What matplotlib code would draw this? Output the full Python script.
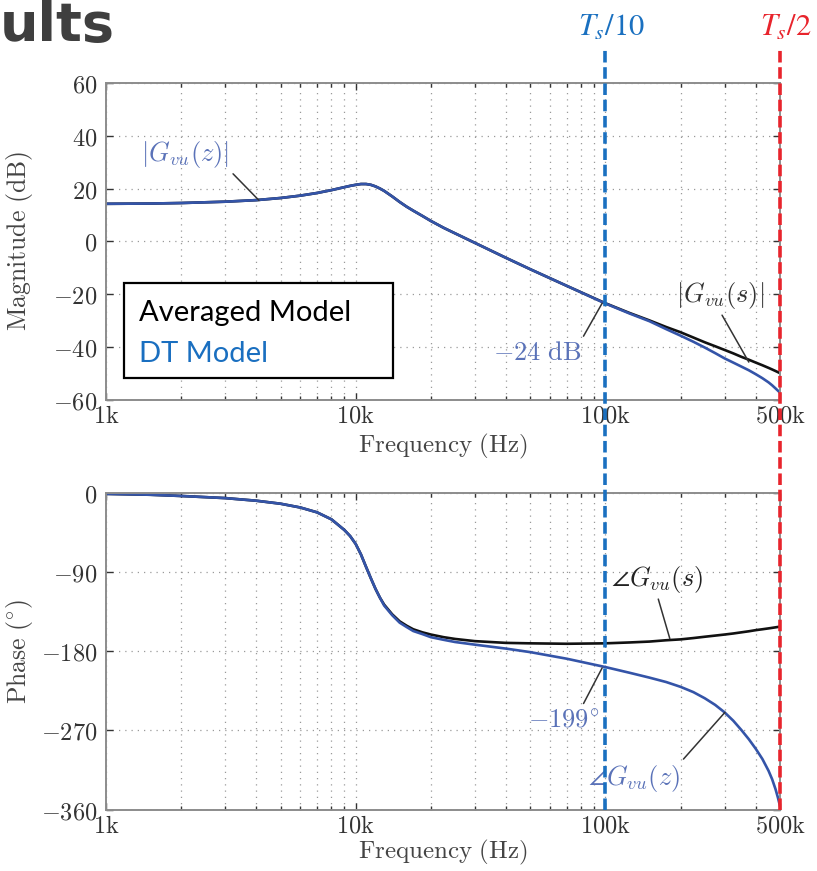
import matplotlib.pyplot as plt
from matplotlib.patches import Rectangle
from matplotlib.ticker import LogLocator, NullFormatter, NullLocator

plt.rcParams['mathtext.fontset'] = 'cm'

# Data
freq = [1000, 1500, 2000, 3000, 4000, 5000, 6000, 7000, 8000, 9000, 9500,
        10000, 10500, 11000, 11500, 12000, 12500, 13000, 14000, 15000, 16000,
        17000, 18500, 20000, 22500, 25000, 30000, 40000, 50000, 70000, 100000,
        125000, 150000, 175000, 200000, 225000, 250000, 275000, 300000, 325000,
        350000, 375000, 400000, 425000, 450000, 465000, 480000, 490000, 500000]
mag_avg = [14.2, 14.3, 14.5, 15.0, 15.6, 16.4, 17.3, 18.3, 19.4, 20.5, 21.0,
           21.4, 21.7, 21.7, 21.4, 20.8, 20.0, 19.1, 17.0, 14.9, 13.1,
           11.6, 9.6, 7.7, 5.1, 3.0, -0.6, -6.3, -10.6, -16.9, -23.5,
           -27.2, -30.0, -32.5, -34.5, -36.5, -38.3, -39.8, -41.2, -42.5,
           -43.8, -44.9, -46.0, -47.0, -48.0, -48.6, -49.2, -49.6, -50.0]
mag_dt = [14.2, 14.3, 14.5, 15.0, 15.6, 16.4, 17.3, 18.3, 19.4, 20.5, 21.0,
          21.4, 21.7, 21.7, 21.4, 20.8, 20.0, 19.1, 17.0, 14.9, 13.1,
          11.6, 9.6, 7.7, 5.1, 3.0, -0.6, -6.3, -10.6, -16.9, -23.6,
          -27.4, -30.3, -33.3, -35.8, -38.1, -40.3, -42.4, -44.4, -46.0,
          -47.5, -48.9, -50.4, -51.9, -53.5, -54.6, -55.8, -56.6, -57.4]
ph_avg = [-1, -2, -3.4, -5.8, -8.8, -12.2, -16.5, -22, -30, -42, -49,
          -58, -70, -84, -97, -109, -119, -127, -138, -146, -151,
          -155, -158.5, -161, -164, -166, -168.5, -170.5, -171, -171.5, -171,
          -170, -169, -167.5, -166.5, -165, -163.5, -162.2, -161, -159.8,
          -158.5, -157.3, -156, -155, -154, -153.4, -152.8, -152.4, -152]
ph_dt = [-1, -2, -3.4, -5.8, -8.8, -12.2, -16.5, -22, -30, -42, -49,
         -58, -70, -84, -97, -109, -119, -128, -139, -147.5, -152.5,
         -157, -160.5, -164, -167, -169.5, -172.5, -177, -181, -188.5, -198,
         -204.5, -210, -215, -220.5, -226.5, -233.5, -241, -249.5, -259,
         -269.5, -280, -291, -302.5, -316, -325.5, -337, -346, -356]

xticks = [1e3, 1e4, 1e5, 5e5]
xtick_labels = [r'$\mathrm{1k}$', r'$\mathrm{10k}$', r'$\mathrm{100k}$', r'$\mathrm{500k}$']
mag_ticks = [60, 40, 20, 0, -20, -40, -60]
ph_ticks = [0, -90, -180, -270, -360]
f_ts10 = 100e3
f_ts2 = 500e3

c_avg = '#111111'
c_dt = '#3454a8'
c_lbl = '#5a72b8'

fig = plt.figure(figsize=(8.17, 8.71), dpi=100)
L, W = 0.1297, 0.8250
ax1 = fig.add_axes([L, 0.5413, W, 0.3634])
ax2 = fig.add_axes([L, 0.0706, W, 0.3634])


def style(ax, yticks, ylabel, xpad):
    ax.set_xscale('log')
    ax.set_xlim(1e3, 5e5)
    ax.set_xticks(xticks, xtick_labels)
    ax.xaxis.set_minor_locator(LogLocator(subs=range(2, 10)))
    ax.xaxis.set_minor_formatter(NullFormatter())
    ax.set_yticks(yticks, [r'$%d$' % v for v in yticks])
    ax.set_ylim(min(yticks), max(yticks))
    ax.yaxis.set_minor_locator(NullLocator())
    ax.tick_params(which='both', direction='in', top=True, right=True,
                   colors='#333333', labelsize=17.5, width=1)
    ax.tick_params(which='major', length=5)
    ax.tick_params(which='minor', length=3)
    ax.tick_params(axis='y', pad=6)
    ax.tick_params(axis='x', pad=3)
    for s in ax.spines.values():
        s.set_color('#8c8c8c')
        s.set_linewidth(1.4)
    ax.grid(which='major', ls=(0, (1, 4)), color='#9a9a9a', lw=0.9)
    ax.grid(which='minor', axis='x', ls=(0, (1, 4)), color='#9a9a9a', lw=0.9)
    ax.set_xlabel(r'$\mathrm{Frequency\ (Hz)}$', fontsize=18, color='#444444', labelpad=xpad)
    ax.set_ylabel(ylabel, fontsize=18.5, color='#444444')
    ax.yaxis.set_label_coords(-0.106, 0.5)


style(ax1, mag_ticks, r'$\mathrm{Magnitude\ (dB)}$', 3)
style(ax2, ph_ticks, r'$\mathrm{Phase\ (^{\circ})}$', 0)

ax1.plot(freq, mag_avg, color=c_avg, lw=1.9)
ax1.plot(freq, mag_dt, color=c_dt, lw=1.9)
ax2.plot(freq, ph_avg, color=c_avg, lw=1.9)
ax2.plot(freq, ph_dt, color=c_dt, lw=1.9)

arrow = dict(arrowstyle='-', color='#333333', lw=1.1, shrinkA=1, shrinkB=0)

ax1.annotate(r'$|G_{vu}(z)|$', xy=(4100, 15.5), xytext=(3120, 27), color=c_lbl,
             fontsize=19, ha='right', va='bottom',
             arrowprops=dict(arrow, relpos=(1, 0)))
ax1.annotate(r'$|G_{vu}(s)|$', xy=(375e3, -45.8), xytext=(287e3, -26.5), color='#333333',
             fontsize=19, ha='center', va='bottom',
             arrowprops=dict(arrow, relpos=(0.5, 0)))
ax1.annotate(r'$-24\ \mathrm{dB}$', xy=(97e3, -23.5), xytext=(80e3, -37.5), color=c_lbl,
             fontsize=19, ha='right', va='top',
             arrowprops=dict(arrow, relpos=(1, 1)))

ax2.annotate(r'$\angle G_{vu}(s)$', xy=(181e3, -165.5), xytext=(161e3, -116), color='#222222',
             fontsize=19, ha='center', va='bottom',
             arrowprops=dict(arrow, relpos=(0.5, 0)))
ax2.annotate(r'$-199^{\circ}$', xy=(97e3, -199), xytext=(68e3, -244), color=c_lbl,
             fontsize=19, ha='center', va='top',
             arrowprops=dict(arrow, relpos=(0.75, 1)))
ax2.annotate(r'$\angle G_{vu}(z)$', xy=(301e3, -249.5), xytext=(199e3, -307), color=c_lbl,
             fontsize=19, ha='right', va='top',
             arrowprops=dict(arrow, relpos=(1, 1)))

# legend box
ax1.add_patch(Rectangle((0.0267, 0.068), 0.399, 0.30, transform=ax1.transAxes,
                        facecolor='white', edgecolor='black', lw=1.6, zorder=5))
ax1.text(0.049, 0.248, 'Averaged Model', transform=ax1.transAxes, fontsize=21,
         family='Lato', color='black', va='baseline', zorder=6)
ax1.text(0.049, 0.118, 'DT Model', transform=ax1.transAxes, fontsize=21,
         family='Lato', color='#1a6fc0', va='baseline', zorder=6)

# dashed markers spanning both plots
ov = fig.add_axes([L, 0.0700, W, 0.8726], zorder=10)
ov.set_xscale('log')
ov.set_xlim(1e3, 5e5)
ov.set_ylim(0, 1)
ov.axis('off')
ov.axvline(f_ts10, color='#1a70c0', lw=2.6, dashes=(3.2, 1.3), clip_on=False)
ov.axvline(f_ts2, color='#e8242c', lw=2.6, dashes=(3.2, 1.3), clip_on=False)
ov.annotate(r'$T_s\mathrm{/10}$', xy=(f_ts10, 1), xycoords=('data', 'axes fraction'),
            xytext=(4, 6), textcoords='offset points', ha='center', va='bottom',
            fontsize=22, color='#1a70c0', math_fontfamily='stix', annotation_clip=False)
ov.annotate(r'$T_s\mathrm{/2}$', xy=(f_ts2, 1), xycoords=('data', 'axes fraction'),
            xytext=(4, 6), textcoords='offset points', ha='center', va='bottom',
            fontsize=22, color='#e8242c', math_fontfamily='stix', annotation_clip=False)

fig.text(0.0, 1.0, 'ults', ha='left', va='top', fontsize=39, fontweight='bold',
         color='#3f3f3f', family='DejaVu Sans')

fig.savefig('out.png', dpi=100)
